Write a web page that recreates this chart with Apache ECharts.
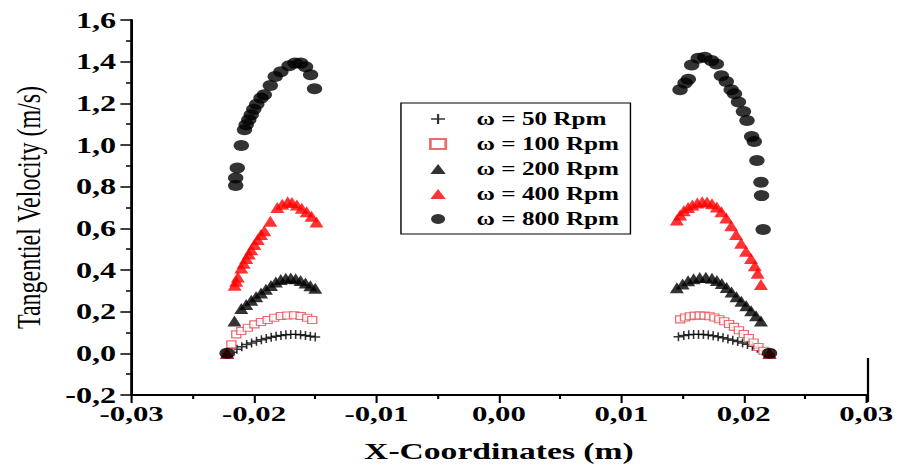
<!DOCTYPE html>
<html>
<head>
<meta charset="utf-8">
<script src="https://cdn.jsdelivr.net/npm/echarts@6/dist/echarts.min.js"></script>
<style>
  html, body { margin: 0; padding: 0; background: #fff; overflow: hidden; }
  /* the source figure is stretched sideways, so the chart is drawn narrow and widened */
  #chart { width: 641px; height: 468px; transform: scaleX(1.4); transform-origin: 0 0; }
</style>
</head>
<body>
<div id="chart"></div>
<script>
var seriesNames = ['ω = 50 Rpm', 'ω = 100 Rpm', 'ω = 200 Rpm', 'ω = 400 Rpm', 'ω = 800 Rpm'];
var xTicks = [-0.03, -0.02, -0.01, 0.00, 0.01, 0.02, 0.03];
var yTicks = [-0.2, 0.0, 0.2, 0.4, 0.6, 0.8, 1.0, 1.2, 1.4, 1.6];

var rpm50X = [-0.0222, -0.0218, -0.0214, -0.0210, -0.0206, -0.0202, -0.0198, -0.0194, -0.0190, -0.0186, -0.0182, -0.0178, -0.0174, -0.0170, -0.0166, -0.0162, -0.0158, -0.0154, -0.0150,
              0.01466, 0.0151, 0.0155, 0.0159, 0.0163, 0.0167, 0.0171, 0.0175, 0.0179, 0.0183, 0.0187, 0.0191, 0.0195, 0.0199, 0.0203, 0.0207, 0.0211, 0.0215, 0.0220];
var rpm50Y = [0, 0.005, 0.020, 0.032, 0.042, 0.050, 0.058, 0.065, 0.071, 0.077, 0.082, 0.086, 0.089, 0.091, 0.091, 0.089, 0.086, 0.082, 0.078,
              0.080, 0.086, 0.089, 0.091, 0.091, 0.090, 0.088, 0.084, 0.080, 0.075, 0.069, 0.063, 0.057, 0.050, 0.043, 0.034, 0.024, 0.013, 0];

var rpm100X = [-0.0222, -0.02199, -0.02185, -0.02145, -0.02104, -0.02051, -0.01997, -0.01943, -0.01889, -0.01835, -0.01781, -0.01728, -0.01673, -0.01619, -0.01566, -0.01525,
               0.0148, 0.0152, 0.0156, 0.0160, 0.0164, 0.0168, 0.0172, 0.0176, 0.0180, 0.0184, 0.0188, 0.0192, 0.0196, 0.0200, 0.0204, 0.0208, 0.0212, 0.0216, 0.0221];
var rpm100Y = [0, 0.005, 0.043, 0.091, 0.107, 0.123, 0.139, 0.150, 0.160, 0.171, 0.179, 0.182, 0.183, 0.179, 0.171, 0.160,
               0.163, 0.172, 0.178, 0.181, 0.182, 0.181, 0.178, 0.172, 0.164, 0.154, 0.141, 0.127, 0.111, 0.093, 0.074, 0.052, 0.030, 0.012, 0];

var rpm200X = [-0.0222, -0.0216, -0.02104, -0.02064, -0.02023, -0.01983, -0.01943, -0.01903, -0.01862, -0.01822, -0.01782, -0.01741, -0.0170, -0.0166, -0.0162, -0.0158, -0.0154, -0.0150,
               0.01453, 0.0150, 0.01545, 0.0159, 0.0164, 0.0169, 0.0174, 0.0178, 0.0182, 0.0186, 0.0190, 0.0194, 0.0198, 0.0202, 0.0206, 0.0210, 0.0214, 0.0221];
var rpm200Y = [0, 0.155, 0.215, 0.235, 0.255, 0.272, 0.290, 0.308, 0.326, 0.343, 0.354, 0.360, 0.362, 0.358, 0.350, 0.338, 0.325, 0.312,
               0.315, 0.333, 0.348, 0.358, 0.364, 0.365, 0.360, 0.350, 0.335, 0.316, 0.295, 0.272, 0.250, 0.228, 0.205, 0.180, 0.155, 0];

var rpm400X = [-0.0222, -0.02158, -0.02145, -0.02132, -0.02104, -0.02085, -0.02064, -0.02043, -0.02023, -0.01997, -0.0197, -0.01943, -0.01916, -0.01867, -0.0181, -0.0177, -0.01725, -0.0169, -0.0165, -0.0161, -0.0157, -0.0153, -0.0149,
               0.01453, 0.0148, 0.0151, 0.01545, 0.0158, 0.0162, 0.0166, 0.0170, 0.0174, 0.0178, 0.01817, 0.01857, 0.01897, 0.01937, 0.01978, 0.02018, 0.02059, 0.0209, 0.02113, 0.0214, 0.0221];
var rpm400Y = [0, 0.327, 0.346, 0.367, 0.410, 0.432, 0.455, 0.477, 0.497, 0.522, 0.546, 0.570, 0.588, 0.634, 0.700, 0.716, 0.728, 0.724, 0.712, 0.697, 0.680, 0.658, 0.630,
               0.640, 0.664, 0.684, 0.700, 0.712, 0.722, 0.728, 0.727, 0.718, 0.703, 0.680, 0.650, 0.612, 0.570, 0.528, 0.490, 0.455, 0.420, 0.385, 0.330, 0];

var rpm800X = [-0.0222, -0.0215, -0.0215, -0.02137, -0.02104, -0.02078, -0.02064, -0.02043, -0.02023, -0.02002, -0.01978, -0.01943, -0.01916, -0.01867, -0.01827, -0.01781, -0.01714, -0.01665, -0.01619, -0.01579, -0.01538, -0.01506,
               0.01479, 0.0152, 0.01547, 0.01574, 0.01628, 0.01681, 0.01736, 0.01776, 0.01817, 0.01857, 0.01897, 0.01924, 0.01956, 0.01997, 0.02026, 0.02064, 0.02086, 0.02107, 0.0214, 0.02145, 0.02158, 0.0221];
var rpm800Y = [0, 0.806, 0.842, 0.890, 0.998, 1.073, 1.097, 1.121, 1.145, 1.172, 1.196, 1.225, 1.241, 1.286, 1.329, 1.352, 1.380, 1.393, 1.393, 1.376, 1.337, 1.270,
               1.265, 1.297, 1.316, 1.384, 1.416, 1.421, 1.405, 1.389, 1.332, 1.305, 1.265, 1.246, 1.206, 1.161, 1.118, 1.041, 1.017, 0.926, 0.821, 0.757, 0.594, 0];

function pairs(xs, ys) {
    var out = [];
    for (var i = 0; i < xs.length; i++) {
        out.push([xs[i], ys[i]]);
    }
    return out;
}

var serif = '"Liberation Serif", "Times New Roman", serif';
var plusPath = 'path://M0,4.2H10V5.8H0Z M4.2,0H5.8V10H4.2Z';

var myChart = echarts.init(document.getElementById('chart'), null, {renderer: 'svg'});
var options = {
    animation: false,
    backgroundColor: '#fff',
    grid: {left: 90, right: 21.4, top: 20, bottom: 71},
    legend: {
        orient: 'vertical',
        left: 286.4,
        top: 103,
        padding: [7, 8, 6, 20],
        itemGap: 7,
        itemWidth: 11,
        itemHeight: 10,
        borderColor: '#000',
        borderWidth: 1,
        textStyle: {fontFamily: serif, fontWeight: 'bold', fontSize: 18, color: '#000', padding: [0, 0, 0, 17]},
        data: [
            {name: seriesNames[0], icon: plusPath, itemStyle: {color: '#000'}},
            {name: seriesNames[1], icon: 'rect'},
            {name: seriesNames[2], icon: 'triangle'},
            {name: seriesNames[3], icon: 'triangle'},
            {name: seriesNames[4], icon: 'circle'}
        ]
    },
    xAxis: {
        type: 'value',
        min: xTicks[0],
        max: xTicks[xTicks.length - 1],
        interval: 0.01,
        name: 'X-Coordinates (m)',
        nameLocation: 'middle',
        nameGap: 44,
        nameTextStyle: {fontFamily: serif, fontWeight: 'bold', fontSize: 24, color: '#000'},
        axisLine: {onZero: false, lineStyle: {color: '#000', width: 2}},
        axisTick: {length: 8, lineStyle: {color: '#000', width: 1.5}},
        minorTick: {show: true, splitNumber: 2, length: 4, lineStyle: {color: '#000', width: 1.5}},
        splitLine: {show: false},
        axisLabel: {
            fontFamily: serif, fontWeight: 'bold', fontSize: 22, color: '#000', margin: 8,
            formatter: function (v) { return v.toFixed(2).replace('.', ','); }
        }
    },
    yAxis: {
        type: 'value',
        min: yTicks[0],
        max: yTicks[yTicks.length - 1],
        interval: 0.2,
        name: 'Tangentiel Velocity (m/s)',
        nameLocation: 'middle',
        nameGap: 62,
        nameTextStyle: {fontFamily: serif, fontSize: 24, color: '#000'},
        axisLine: {show: true, onZero: false, lineStyle: {color: '#000', width: 2}},
        axisTick: {show: true, length: 8, lineStyle: {color: '#000', width: 1.5}},
        minorTick: {show: true, splitNumber: 2, length: 4, lineStyle: {color: '#000', width: 1.5}},
        splitLine: {show: false},
        axisLabel: {
            fontFamily: serif, fontWeight: 'bold', fontSize: 23, color: '#000', margin: 11,
            formatter: function (v) { return v.toFixed(1).replace('.', ','); }
        }
    },
    graphic: [
        {type: 'line', shape: {x1: 620, y1: 358, x2: 620, y2: 402}, style: {stroke: '#000', lineWidth: 1.6}}
    ],
    series: [
        {
            name: seriesNames[0], type: 'scatter', symbol: plusPath, symbolSize: [7, 9],
            itemStyle: {color: '#000'},
            data: pairs(rpm50X, rpm50Y)
        },
        {
            name: seriesNames[1], type: 'scatter', symbol: 'rect', symbolSize: [6.5, 7],
            itemStyle: {color: '#fff', borderColor: '#e8474f', borderWidth: 1},
            data: pairs(rpm100X, rpm100Y)
        },
        {
            name: seriesNames[2], type: 'scatter', symbol: 'triangle', symbolSize: [10, 11],
            itemStyle: {color: '#000'},
            data: pairs(rpm200X, rpm200Y)
        },
        {
            name: seriesNames[3], type: 'scatter', symbol: 'triangle', symbolSize: [10, 11],
            itemStyle: {color: '#ff0000'},
            data: pairs(rpm400X, rpm400Y)
        },
        {
            name: seriesNames[4], type: 'scatter', symbol: 'circle', symbolSize: [11, 11],
            itemStyle: {color: '#000'},
            data: pairs(rpm800X, rpm800Y)
        }
    ]
};
myChart.setOption(options, true);
</script>
</body>
</html>
